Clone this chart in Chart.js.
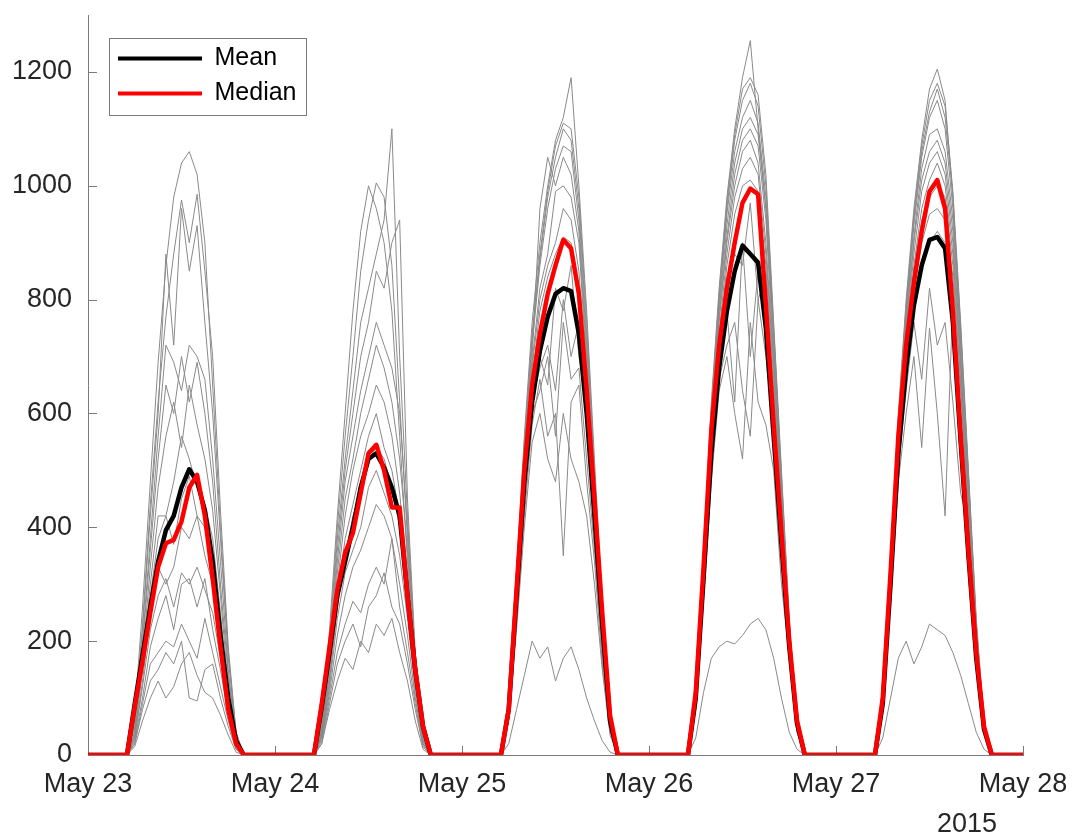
<!DOCTYPE html>
<html>
<head>
<meta charset="utf-8">
<script src="https://cdn.jsdelivr.net/npm/chart.js@4.4.1/dist/chart.umd.min.js"></script>
<style>
  html, body { margin: 0; padding: 0; background: #fff; }
  #IrradianceReport { width: 1074px; height: 838px; }
</style>
</head>
<body>
<div id="IrradianceReport">
  <canvas id="IrradianceCanvas" width="1074" height="838"></canvas>
</div>
<script>
// tick labels
const dayLabels = ['May 23', 'May 24', 'May 25', 'May 26', 'May 27', 'May 28'];
const yearLabel = '2015';
const yTicks = [0, 200, 400, 600, 800, 1000, 1200];

// hours of the day that carry values, the rest of the day is 0
const daylightHours = [6, 7, 8, 9, 10, 11, 12, 13, 14, 15, 16, 17, 18, 19];

// one row per day (May 23 .. May 27), one value per daylight hour
const meanByDay = [
  [90, 175, 260, 340, 395, 420, 470, 502, 480, 430, 340, 210, 100, 25],
  [85, 180, 280, 340, 400, 470, 520, 530, 505, 470, 420, 280, 150, 50],
  [80, 280, 480, 620, 710, 770, 810, 820, 815, 740, 600, 420, 230, 60],
  [100, 310, 530, 680, 780, 850, 895, 880, 865, 750, 560, 370, 190, 55],
  [90, 300, 530, 680, 790, 860, 905, 910, 890, 760, 550, 350, 170, 45],
];

const medianByDay = [
  [85, 165, 250, 330, 372, 378, 410, 470, 492, 420, 310, 190, 80, 20],
  [90, 190, 290, 355, 390, 460, 530, 545, 500, 435, 435, 280, 150, 50],
  [80, 290, 500, 650, 740, 810, 860, 905, 890, 810, 640, 450, 250, 70],
  [110, 330, 570, 720, 820, 900, 970, 995, 985, 790, 580, 390, 200, 60],
  [100, 320, 560, 720, 830, 920, 990, 1010, 960, 780, 560, 360, 180, 50],
];

// individual stations (gray lines)
const stationA = [
  [70, 260, 480, 690, 860, 980, 1040, 1060, 1020, 900, 650, 400, 180, 40],
  [60, 220, 420, 600, 780, 920, 1000, 960, 900, 780, 560, 340, 150, 30],
  [90, 320, 560, 760, 900, 1000, 1080, 1120, 1190, 1000, 780, 520, 260, 70],
  [110, 360, 620, 820, 980, 1100, 1190, 1255, 1100, 960, 740, 480, 230, 60],
  [100, 340, 600, 800, 960, 1080, 1170, 1205, 1150, 980, 750, 490, 230, 55],
];
const stationB = [
  [60, 230, 440, 620, 770, 880, 975, 900, 985, 850, 700, 430, 190, 40],
  [50, 200, 400, 560, 700, 850, 940, 1005, 980, 860, 620, 380, 160, 35],
  [90, 310, 550, 740, 880, 990, 1070, 1110, 1100, 980, 760, 500, 250, 70],
  [110, 350, 610, 810, 970, 1090, 1170, 1190, 1160, 1020, 760, 500, 240, 60],
  [100, 340, 590, 790, 950, 1070, 1150, 1180, 1140, 990, 760, 500, 240, 55],
];
const stationC = [
  [60, 220, 420, 600, 880, 720, 960, 850, 930, 760, 600, 380, 170, 35],
  [50, 190, 380, 520, 640, 760, 820, 880, 940, 1100, 700, 420, 170, 35],
  [85, 300, 540, 730, 870, 980, 1050, 1100, 1080, 960, 740, 490, 240, 65],
  [105, 340, 600, 800, 960, 1080, 1150, 1180, 1140, 1000, 750, 490, 230, 55],
  [95, 330, 580, 780, 940, 1060, 1130, 1170, 1120, 980, 740, 490, 230, 55],
];
const stationD = [
  [50, 200, 380, 560, 720, 690, 640, 720, 700, 660, 520, 340, 150, 30],
  [45, 180, 360, 500, 600, 700, 760, 850, 820, 900, 940, 450, 180, 35],
  [85, 300, 530, 720, 860, 960, 1030, 1070, 1060, 940, 720, 480, 230, 60],
  [100, 340, 590, 790, 950, 1060, 1120, 1150, 1110, 980, 740, 480, 220, 55],
  [95, 330, 580, 770, 930, 1050, 1120, 1150, 1100, 960, 730, 480, 220, 50],
];
const stationE = [
  [50, 190, 360, 520, 650, 600, 700, 620, 690, 600, 480, 300, 140, 30],
  [45, 170, 340, 480, 560, 640, 700, 760, 720, 680, 600, 400, 170, 30],
  [80, 290, 520, 700, 960, 1050, 1000, 1050, 1020, 920, 700, 460, 220, 60],
  [100, 330, 580, 780, 930, 1040, 1100, 1120, 1090, 960, 720, 470, 220, 55],
  [95, 320, 570, 760, 910, 1030, 1090, 1100, 1060, 940, 720, 470, 220, 50],
];
const stationF = [
  [40, 170, 330, 470, 560, 620, 540, 650, 580, 520, 430, 280, 120, 25],
  [40, 160, 320, 450, 520, 600, 660, 720, 680, 620, 520, 360, 150, 30],
  [80, 280, 510, 690, 820, 880, 990, 1000, 980, 900, 680, 450, 210, 55],
  [100, 330, 570, 770, 910, 1020, 1080, 1100, 1070, 940, 700, 460, 210, 50],
  [90, 320, 560, 750, 900, 1010, 1060, 1080, 1040, 920, 700, 460, 210, 50],
];
const stationG = [
  [40, 160, 300, 420, 420, 480, 560, 520, 470, 440, 380, 250, 110, 25],
  [40, 150, 300, 420, 500, 560, 600, 650, 620, 560, 460, 320, 140, 25],
  [80, 280, 500, 680, 800, 860, 900, 960, 940, 850, 660, 440, 200, 55],
  [95, 320, 560, 760, 900, 1000, 1060, 1080, 1040, 900, 690, 450, 210, 50],
  [90, 310, 550, 740, 880, 990, 1040, 1060, 1020, 900, 690, 450, 210, 50],
];
const stationH = [
  [35, 150, 280, 380, 420, 370, 450, 490, 420, 400, 330, 230, 100, 20],
  [35, 140, 280, 380, 440, 500, 560, 600, 540, 500, 420, 290, 130, 25],
  [75, 270, 490, 660, 780, 840, 880, 910, 900, 800, 640, 420, 200, 50],
  [95, 310, 550, 740, 880, 980, 1030, 1050, 1020, 880, 680, 440, 200, 50],
  [90, 310, 540, 720, 860, 960, 1010, 1040, 1000, 880, 680, 440, 200, 45],
];
const stationI = [
  [30, 130, 250, 330, 300, 330, 400, 380, 420, 350, 300, 200, 90, 20],
  [35, 130, 260, 350, 420, 460, 520, 540, 520, 470, 400, 270, 120, 20],
  [75, 260, 480, 640, 700, 650, 820, 780, 860, 700, 620, 400, 190, 50],
  [90, 300, 540, 720, 860, 950, 1000, 1010, 990, 860, 660, 430, 200, 45],
  [85, 300, 530, 700, 840, 940, 980, 1000, 980, 860, 660, 430, 200, 45],
];
const stationJ = [
  [30, 120, 220, 280, 310, 260, 320, 300, 330, 290, 250, 170, 80, 15],
  [30, 120, 240, 320, 360, 400, 470, 500, 460, 420, 350, 240, 110, 20],
  [70, 250, 460, 620, 680, 720, 640, 800, 700, 760, 600, 380, 180, 45],
  [90, 300, 530, 700, 840, 880, 860, 970, 800, 840, 640, 420, 190, 45],
  [85, 300, 520, 690, 820, 900, 950, 960, 940, 840, 650, 420, 190, 45],
];
const stationK = [
  [25, 100, 190, 240, 280, 220, 300, 310, 260, 310, 220, 150, 70, 15],
  [30, 110, 210, 280, 330, 360, 400, 440, 420, 380, 300, 210, 100, 20],
  [70, 240, 440, 600, 640, 700, 560, 760, 660, 680, 520, 360, 170, 45],
  [85, 290, 520, 680, 780, 620, 900, 700, 850, 760, 580, 400, 180, 45],
  [80, 290, 510, 680, 800, 860, 900, 920, 900, 800, 640, 410, 190, 40],
];
const stationL = [
  [20, 90, 160, 180, 200, 190, 230, 200, 170, 240, 180, 120, 60, 10],
  [25, 100, 180, 230, 270, 250, 300, 330, 300, 380, 260, 180, 90, 15],
  [65, 230, 420, 580, 660, 560, 600, 350, 620, 650, 480, 340, 160, 40],
  [85, 280, 500, 660, 720, 760, 640, 560, 800, 700, 570, 380, 180, 40],
  [80, 280, 500, 640, 760, 660, 820, 720, 760, 620, 460, 400, 180, 40],
];
const stationM = [
  [20, 80, 130, 150, 180, 160, 200, 100, 95, 150, 160, 100, 50, 10],
  [20, 90, 160, 200, 230, 190, 260, 280, 320, 260, 230, 160, 80, 15],
  [60, 220, 400, 550, 600, 520, 480, 600, 520, 480, 420, 300, 150, 35],
  [80, 270, 480, 640, 700, 600, 520, 760, 620, 580, 500, 300, 170, 40],
  [75, 270, 480, 600, 700, 540, 750, 600, 420, 800, 600, 380, 170, 40],
];
const stationN = [
  [15, 60, 100, 130, 100, 120, 160, 180, 140, 110, 100, 70, 35, 5],
  [20, 80, 130, 170, 150, 200, 180, 230, 210, 240, 180, 130, 60, 10],
  [20, 80, 140, 200, 170, 190, 130, 170, 190, 150, 100, 60, 25, 5],
  [30, 110, 170, 190, 200, 195, 210, 230, 240, 220, 170, 100, 40, 10],
  [30, 100, 170, 200, 160, 190, 230, 220, 210, 180, 140, 90, 40, 10],
];

const stations = [
  stationA, stationB, stationC, stationD, stationE, stationF, stationG,
  stationH, stationI, stationJ, stationK, stationL, stationM, stationN,
];

const FONT = "'Liberation Sans', Arial, Helvetica, sans-serif";
const TEXT_COLOR = '#262626';
const AXIS_COLOR = '#7a7a7a';

/**
 * turn the per day daylight rows into hourly {x, y} points (x = hours since May 23)
 */
const toHourly = (days = []) => {
  const points = [];
  days.forEach((row, d) => {
    for (let h = 0; h < 24; h++) {
      const idx = daylightHours.indexOf(h);
      points.push({ x: d * 24 + h, y: idx >= 0 ? row[idx] : 0 });
    }
  });
  points.push({ x: days.length * 24, y: 0 });
  return points;
};

const grayDatasets = stations.map((days, i) => ({
  label: `Station ${i + 1}`,
  data: toHourly(days),
  borderColor: '#8a8a8a',
  backgroundColor: '#8a8a8a',
  borderWidth: 1,
  order: 2,
}));

const datasets = [
  {
    label: 'Mean',
    data: toHourly(meanByDay),
    borderColor: '#000000',
    backgroundColor: '#000000',
    borderWidth: 4.5,
    order: 1,
  },
  {
    label: 'Median',
    data: toHourly(medianByDay),
    borderColor: '#ff0000',
    backgroundColor: '#ff0000',
    borderWidth: 4.5,
    order: 0,
  },
  ...grayDatasets,
];

/* MATLAB style ticks pointing into the plot */
const inwardTicks = {
  id: 'inwardTicks',
  beforeDatasetsDraw(chart) {
    const { ctx, chartArea, scales: { x, y } } = chart;
    ctx.save();
    ctx.strokeStyle = AXIS_COLOR;
    ctx.lineWidth = 1;
    ctx.beginPath();
    y.ticks.forEach(t => {
      const py = Math.round(y.getPixelForValue(t.value)) + 0.5;
      ctx.moveTo(chartArea.left, py);
      ctx.lineTo(chartArea.left + 9, py);
    });
    x.ticks.forEach(t => {
      const px = Math.round(x.getPixelForValue(t.value)) + 0.5;
      ctx.moveTo(px, chartArea.bottom);
      ctx.lineTo(px, chartArea.bottom - 9);
    });
    ctx.stroke();
    ctx.restore();
  },
};

/* legend sits inside the axes, with a thin frame round it */
const legendFrame = {
  id: 'legendFrame',
  afterLayout(chart) {
    chart.legend.left = 108;
    chart.legend.top = 36;
  },
  afterDraw(chart) {
    const { legend, ctx } = chart;
    const labelOpts = legend.options.labels;
    const pad = labelOpts.padding;
    const fontSize = labelOpts.font.size;
    ctx.save();
    ctx.font = `${fontSize}px ${FONT}`;
    const textW = Math.max(...legend.legendItems.map(it => ctx.measureText(it.text).width));
    const itemX = legend.left + pad;
    const itemY = legend.top + pad;
    const n = legend.legendItems.length;
    const x0 = itemX - 9.5;
    const y0 = itemY - 8.5;
    const x1 = itemX + labelOpts.boxWidth + fontSize / 2 + textW + 9;
    const y1 = itemY + (n - 1) * (fontSize + pad) + fontSize + 8.5;
    ctx.strokeStyle = '#7a7a7a';
    ctx.lineWidth = 1;
    ctx.strokeRect(Math.round(x0) + 0.5, Math.round(y0) + 0.5, Math.round(x1 - x0), Math.round(y1 - y0));
    ctx.restore();
  },
};

/* year under the last date tick */
const yearLabelPlugin = {
  id: 'yearLabel',
  afterDraw(chart) {
    const { ctx, scales: { x } } = chart;
    ctx.save();
    ctx.font = `27px ${FONT}`;
    ctx.fillStyle = TEXT_COLOR;
    ctx.textAlign = 'center';
    ctx.textBaseline = 'middle';
    ctx.fillText(yearLabel, x.getPixelForValue(x.max) - 56, 825);
    ctx.restore();
  },
};

const ctx = document.getElementById('IrradianceCanvas').getContext('2d');

window.IrradianceChartRef = new Chart(ctx, {
  type: 'line',
  data: { datasets },
  options: {
    responsive: false,
    animation: false,
    devicePixelRatio: 1,
    elements: {
      point: { radius: 0, hoverRadius: 0 },
      line: { tension: 0, borderJoinStyle: 'round', borderCapStyle: 'butt' },
    },
    layout: { padding: { top: 15, right: 51, left: 0, bottom: 0 } },
    scales: {
      x: {
        type: 'linear',
        min: 0,
        max: 120,
        afterFit(scale) {
          scale.height = 83;
          scale.paddingLeft = 0;
          scale.paddingRight = 0;
        },
        afterBuildTicks(scale) {
          scale.ticks = dayLabels.map((_, i) => ({ value: i * 24 }));
        },
        grid: { display: false, drawTicks: false },
        border: { display: true, color: AXIS_COLOR, width: 1 },
        ticks: {
          autoSkip: false,
          maxRotation: 0,
          padding: 13,
          color: TEXT_COLOR,
          font: { family: FONT, size: 27 },
          callback: value => dayLabels[Math.round(value / 24)],
        },
      },
      y: {
        min: 0,
        max: 1300,
        afterFit(scale) {
          scale.width = 88;
          scale.paddingTop = 0;
          scale.paddingBottom = 0;
        },
        afterBuildTicks(scale) {
          scale.ticks = yTicks.map(v => ({ value: v }));
        },
        grid: { display: false, drawTicks: false },
        border: { display: true, color: AXIS_COLOR, width: 1 },
        ticks: {
          padding: 16,
          color: TEXT_COLOR,
          font: { family: FONT, size: 27 },
          callback: value => String(value),
        },
      },
    },
    plugins: {
      tooltip: { enabled: false },
      legend: {
        position: 'chartArea',
        align: 'start',
        labels: {
          boxWidth: 84,
          boxHeight: 4,
          padding: 10,
          color: '#000000',
          font: { family: FONT, size: 25 },
          filter: item => item.datasetIndex < 2,
          sort: (a, b) => a.datasetIndex - b.datasetIndex,
          generateLabels(chart) {
            return Chart.defaults.plugins.legend.labels
              .generateLabels(chart)
              .map(item => ({ ...item, lineWidth: 0 }));
          },
        },
      },
    },
  },
  plugins: [inwardTicks, legendFrame, yearLabelPlugin],
});
</script>
</body>
</html>
